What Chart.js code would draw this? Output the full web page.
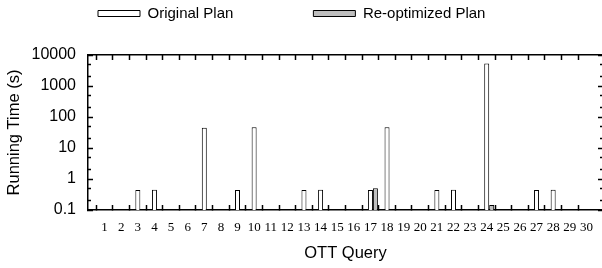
<!DOCTYPE html>
<html>
<head>
<meta charset="utf-8">
<script src="https://cdn.jsdelivr.net/npm/chart.js@4.4.1/dist/chart.umd.min.js"></script>
<style>
html, body { margin: 0; padding: 0; overflow: hidden; background: #fff; }
#wrap { width: 606px; height: 268px; }
</style>
</head>
<body>
<div id="wrap"><canvas id="chart" width="606" height="268"></canvas></div>
<script>
const queries = [1, 2, 3, 4, 5, 6, 7, 8, 9, 10, 11, 12, 13, 14, 15, 16, 17, 18, 19, 20, 21, 22, 23, 24, 25, 26, 27, 28, 29, 30];
const originalPlan = [null, null, 0.44, 0.45, null, null, 45, null, 0.44, 47, null, null, 0.44, 0.45, null,
                      null, 0.44, 47, null, null, 0.44, 0.45, null, 5300, null, null, 0.44, 0.45, null, null];
const reoptimizedPlan = [null, null, null, null, null, null, null, null, null, null, null, null, null, null, null,
                         null, 0.5, null, null, null, null, null, null, 0.145, null, null, null, null, null, null];
const majorTicks = [0.1, 1, 10, 100, 1000, 10000];
const minorTicks = [0.2, 0.5, 2, 5, 20, 50, 200, 500, 2000, 5000];

// one empty slot each side so the frame sits half a step outside queries 1 and 30
const labels = ['', ...queries.map(String), ''];
const pad = arr => [null, ...arr, null];
const empty = labels.map(() => null);

const LEGEND_LEFT = 98;
const LEGEND_MID_Y = 13.5;

Chart.defaults.font.family = 'Liberation Sans';
Chart.defaults.color = '#000';

const edgeTick = c => (c.index === 0 || c.index === labels.length - 1) ? 'rgba(0,0,0,0)' : '#000';

// legend items need a wide gap, which chart.js also uses as top margin: move the box back
const legendPlace = {
    id: 'legendPlace',
    afterLayout(chart) {
        const lg = chart.legend;
        const p = lg.options.labels.padding;
        lg.left = LEGEND_LEFT - p;
        lg.top = LEGEND_MID_Y - p - 7.5;
    }
};

function logAxis(position, ticks, len, weight, width) {
    return {
        type: 'logarithmic',
        position,
        min: 0.1,
        max: 10000,
        weight,
        afterBuildTicks: s => { s.ticks = ticks.map(v => ({ value: v })); },
        afterFit: s => { s.width = width; },
        ticks: { display: false },
        grid: { drawOnChartArea: false, tickLength: len, tickWidth: 1.5, tickColor: '#000' },
        border: { display: false }
    };
}

const yMain = logAxis('left', majorTicks, -5, 1, 88);
yMain.ticks = {
    display: true,
    autoSkip: false,
    padding: 17,
    font: { size: 16 },
    callback: v => String(v)
};
yMain.border = { display: true, color: '#000', width: 1.5 };
yMain.title = {
    display: true,
    text: 'Running Time (s)',
    font: { size: 16.5 },
    padding: { top: 5, bottom: 0 }
};

new Chart(document.getElementById('chart'), {
    type: 'bar',
    data: {
        labels,
        datasets: [
            { label: '', data: empty },
            {
                label: 'Original Plan',
                data: pad(originalPlan),
                backgroundColor: '#fff',
                borderColor: '#000',
                borderWidth: 1
            },
            {
                label: 'Re-optimized Plan',
                data: pad(reoptimizedPlan),
                backgroundColor: '#bebebe',
                borderColor: '#000',
                borderWidth: 1
            }
        ]
    },
    options: {
        responsive: false,
        animation: false,
        devicePixelRatio: 1,
        categoryPercentage: 0.9,
        barPercentage: 1,
        layout: { padding: 0 },
        plugins: {
            tooltip: { enabled: false },
            legend: {
                position: 'top',
                align: 'start',
                maxHeight: 30,
                labels: {
                    boxWidth: 42,
                    boxHeight: 6,
                    padding: 80,
                    font: { size: 15 },
                    filter: item => item.text !== ''
                }
            }
        },
        scales: {
            x: {
                type: 'category',
                position: 'bottom',
                offset: false,
                afterFit: s => { s.height = 58; s.paddingLeft = 0; s.paddingRight = 0; },
                grid: { drawOnChartArea: false, tickLength: -5, tickWidth: 1.5, tickColor: edgeTick },
                border: { color: '#000', width: 1.5 },
                ticks: {
                    autoSkip: false,
                    maxRotation: 0,
                    padding: 15,
                    font: { family: 'Liberation Serif', size: 13 }
                },
                title: {
                    display: true,
                    text: 'OTT Query',
                    font: { size: 16.5 },
                    padding: { top: 0, bottom: 5 }
                }
            },
            x2: {
                type: 'category',
                position: 'top',
                offset: false,
                afterFit: s => { s.height = 25; s.paddingLeft = 0; s.paddingRight = 0; },
                grid: { drawOnChartArea: false, tickLength: -5, tickWidth: 1.5, tickColor: edgeTick },
                border: { color: '#000', width: 1.5 },
                ticks: { display: false }
            },
            y: yMain,
            yMinor: logAxis('left', minorTicks, -3, 0, 0),
            y2: Object.assign(logAxis('right', majorTicks, -5, 1, 3), { border: { display: true, color: '#000', width: 1.5 } }),
            y2Minor: logAxis('right', minorTicks, -3, 0, 0)
        }
    },
    plugins: [legendPlace]
});
</script>
</body>
</html>
